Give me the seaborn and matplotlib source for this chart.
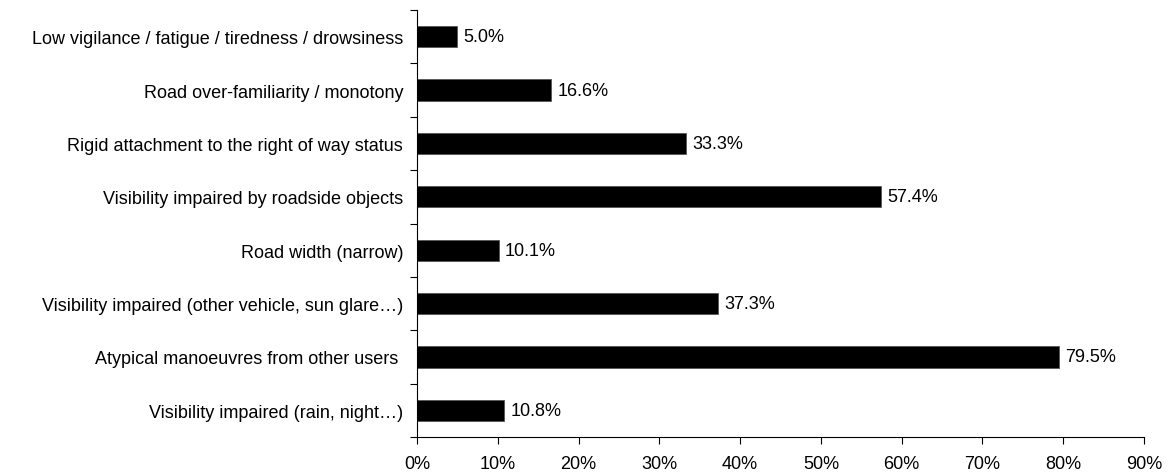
import seaborn as sns
import matplotlib.pyplot as plt
import numpy as np
import pandas as pd

categories = [
    "Low vigilance / fatigue / tiredness / drowsiness",
    "Road over-familiarity / monotony",
    "Rigid attachment to the right of way status",
    "Visibility impaired by roadside objects",
    "Road width (narrow)",
    "Visibility impaired (other vehicle, sun glare\u2026)",
    "Atypical manoeuvres from other users ",
    "Visibility impaired (rain, night\u2026)",
]
shares = [5.0, 16.6, 33.3, 57.4, 10.1, 37.3, 79.5, 10.8]
xticks = [0, 10, 20, 30, 40, 50, 60, 70, 80, 90]

df = pd.DataFrame({"factor": categories, "share": shares})

sns.set_style("white")
plt.rcParams['font.family'] = ['Liberation Sans', 'DejaVu Sans']
plt.rcParams['text.color'] = 'black'
plt.rcParams['xtick.color'] = 'black'
plt.rcParams['ytick.color'] = 'black'

fs = 13

fig = plt.figure(figsize=(11.7, 4.77), dpi=100)
ax = fig.add_axes([417 / 1170, 1 - 438 / 477, 727 / 1170, 427 / 477])

sns.barplot(data=df, x="share", y="factor", orient="h", color="black",
            width=0.4, edgecolor="#555555", linewidth=0.6, ax=ax)

# value labels right of each bar
for i, v in enumerate(shares):
    ax.annotate(f"{v:.1f}%", (v, i), xytext=(4.5, 0), textcoords="offset points",
                va="center", ha="left", fontsize=fs, color="black")

ax.set_xlim(0, 90)
ax.set_ylim(len(categories) - 0.5, -0.5)
ax.set_xticks(xticks)
ax.set_xticklabels([f"{t}%" for t in xticks], fontsize=fs)
ax.set_xlabel("")
ax.set_ylabel("")

# category labels without ticks, ticks at the band edges instead
ax.set_yticks(np.arange(len(categories)))
ax.set_yticklabels(categories, fontsize=fs)
ax.set_yticks(np.arange(len(categories) + 1) - 0.5, minor=True)
ax.tick_params(axis="y", which="major", length=0, pad=10)
ax.tick_params(axis="y", which="minor", length=5, width=0.8, direction="out", left=True)
ax.tick_params(axis="x", length=5, width=0.8, direction="out", bottom=True, pad=8)

sns.despine(ax=ax)
for s in ["left", "bottom"]:
    ax.spines[s].set_color("black")
    ax.spines[s].set_linewidth(0.8)

fig.savefig("out.png", dpi=100)
